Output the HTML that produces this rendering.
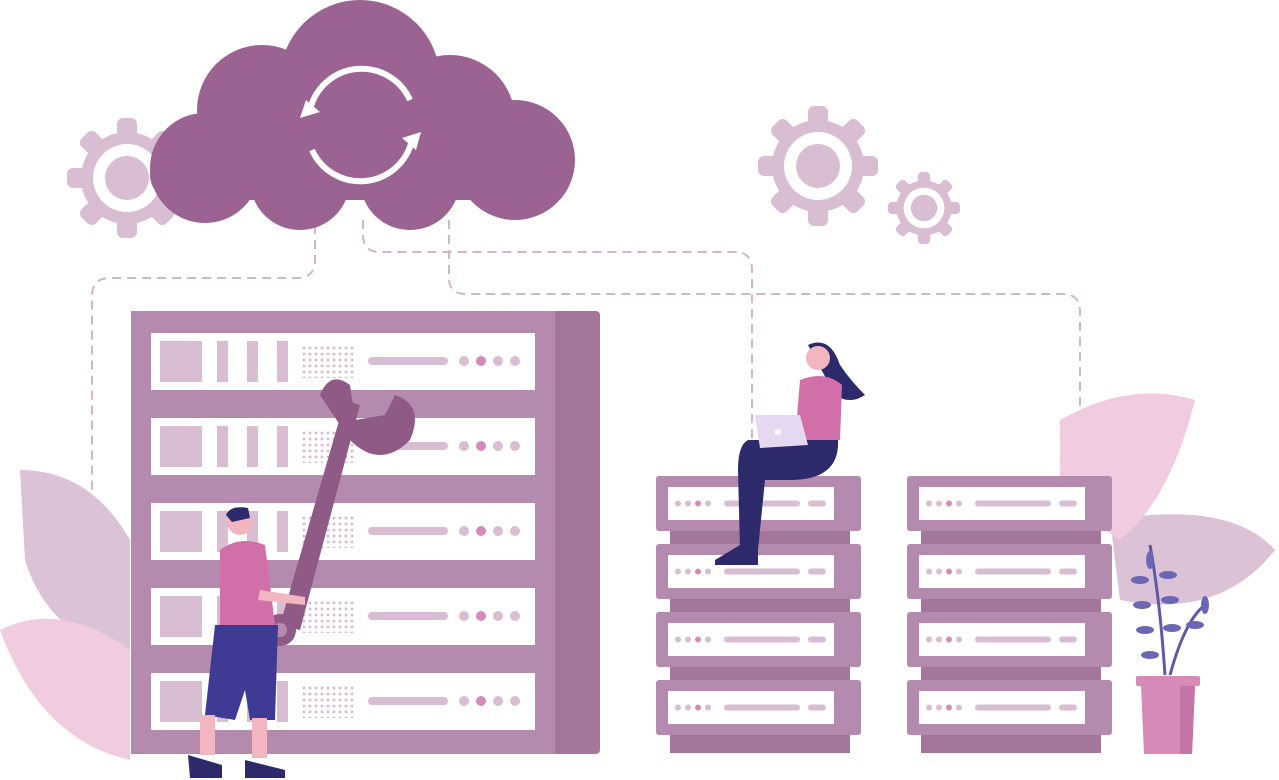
<!DOCTYPE html>
<html><head><meta charset="utf-8"><style>html,body{margin:0;padding:0;background:#fff}svg{display:block}</style></head><body>
<svg width="1279" height="780" viewBox="0 0 1279 780" xmlns="http://www.w3.org/2000/svg">
<defs>
<pattern id="dots" width="6" height="6" patternUnits="userSpaceOnUse"><circle cx="3" cy="3" r="1.5" fill="#d8bdd3"/></pattern>
<g id="gear"><circle r="46" fill="#d8bdd3"/><g fill="#d8bdd3">
<rect x="-10" y="-60" width="20" height="120" rx="6"/><rect x="-10" y="-60" width="20" height="120" rx="6" transform="rotate(45)"/><rect x="-10" y="-60" width="20" height="120" rx="6" transform="rotate(90)"/><rect x="-10" y="-60" width="20" height="120" rx="6" transform="rotate(135)"/></g>
<circle r="34" fill="#fff"/><circle r="22" fill="#d8bdd3"/></g>
<g id="unit"><rect x="0" y="0" width="205" height="55" rx="3" fill="#b48aae"/><rect x="12" y="11" width="166" height="33" fill="#fff"/>
<circle cx="22" cy="27.5" r="3" fill="#d8bdd3"/><circle cx="32" cy="27.5" r="3" fill="#d8bdd3"/><circle cx="42" cy="27.5" r="3" fill="#d68ab8"/><circle cx="52" cy="27.5" r="3" fill="#d8bdd3"/><rect x="68" y="24.5" width="76" height="6" rx="3" fill="#d8bdd3"/><rect x="152" y="24.5" width="18" height="6" rx="3" fill="#d8bdd3"/></g>
<g id="row"><rect width="384" height="57" fill="#fff"/><rect x="9" y="8" width="42" height="41" fill="#d8bdd3"/><rect x="66" y="8" width="11" height="41" fill="#d8bdd3"/><rect x="96" y="8" width="11" height="41" fill="#d8bdd3"/><rect x="126" y="8" width="11" height="41" fill="#d8bdd3"/>
<rect x="150" y="12" width="55" height="33" fill="url(#dots)"/><rect x="217" y="24" width="80" height="8" rx="4" fill="#d8bdd3"/><circle cx="313" cy="28" r="5" fill="#d8bdd3"/><circle cx="330" cy="28" r="5" fill="#d68ab8"/><circle cx="347" cy="28" r="5" fill="#d8bdd3"/><circle cx="364" cy="28" r="5" fill="#d8bdd3"/></g>
</defs>
<use href="#gear" x="127" y="178"/>
<use href="#gear" x="818" y="166"/>
<use href="#gear" transform="translate(924,208) scale(0.6)"/>
<g fill="none" stroke="#d4b3cd" stroke-width="2" stroke-dasharray="9 6">
<path d="M315 225 V260 Q315 278 297 278 H110 Q92 278 92 296 V500"/>
<path d="M363 220 V235 Q363 252 380 252 H735 Q752 252 752 270 V476"/>
<path d="M449 220 V278 Q449 294 466 294 H1063 Q1080 294 1080 312 V420"/>
</g>
<g fill="#dcc2d7"><path d="M20 470 Q90 470 130 540 L130 650 Q50 640 25 560 Z"/><path d="M1110 520 Q1230 500 1275 550 Q1220 620 1120 600 Z"/></g>
<g fill="#f1cbe0"><path d="M0 630 Q60 600 130 650 L130 760 Q40 740 0 630 Z"/><path d="M1060 420 Q1130 380 1195 400 Q1170 500 1120 540 L1060 500 Z"/></g>
<g fill="#9b6391"><circle cx="205" cy="168" r="55"/><circle cx="262" cy="110" r="65"/><circle cx="360" cy="80" r="80"/><circle cx="450" cy="120" r="65"/><circle cx="515" cy="160" r="60"/><circle cx="300" cy="180" r="50"/><circle cx="410" cy="180" r="50"/><rect x="150" y="150" width="420" height="50" rx="25"/></g>
<g fill="none" stroke="#fff" stroke-width="6"><path d="M310 110 A53 53 0 0 1 410 100"/><path d="M412 140 A53 53 0 0 1 312 150"/></g>
<path d="M300 118 L320 112 L306 100Z M421 132 L402 138 L416 150Z" fill="#fff"/>
<rect x="131" y="311" width="469" height="443" rx="4" fill="#a4769c"/>
<rect x="131" y="311" width="424" height="443" fill="#b48aae"/>
<use href="#row" x="151" y="333"/><use href="#row" x="151" y="418"/><use href="#row" x="151" y="503"/><use href="#row" x="151" y="588"/><use href="#row" x="151" y="673"/>
<g><rect x="670" y="480" width="180" height="273" fill="#a4769c"/>
<use href="#unit" x="656" y="476"/><use href="#unit" x="656" y="544"/><use href="#unit" x="656" y="612"/><use href="#unit" x="656" y="680"/></g>
<g><rect x="921" y="480" width="180" height="273" fill="#a4769c"/>
<use href="#unit" x="907" y="476"/><use href="#unit" x="907" y="544"/><use href="#unit" x="907" y="612"/><use href="#unit" x="907" y="680"/></g>
<path d="M345 400 L360 405 L300 630 L280 625 Z" fill="#8f5a86"/>
<path d="M320 395 Q330 370 350 385 L355 420 L385 415 L395 395 Q425 405 410 440 Q380 470 350 440 Z" fill="#8f5a86"/>
<circle cx="280" cy="630" r="16" fill="#8f5a86"/><circle cx="280" cy="630" r="7" fill="#b48aae"/>
<circle cx="240" cy="522" r="13" fill="#f2b6c0"/><path d="M226 515 Q230 505 248 508 L250 518 L232 522Z" fill="#2c2a6b"/>
<path d="M220 550 Q240 535 265 545 L275 625 L220 625Z" fill="#d170a8"/>
<path d="M215 625 L278 625 L275 720 L250 720 L245 690 L235 720 L205 715Z" fill="#3f3b94"/>
<rect x="200" y="715" width="15" height="40" fill="#f2b6c0"/><rect x="252" y="718" width="15" height="40" fill="#f2b6c0"/>
<path d="M188 755 L222 765 L222 778 L190 778Z M245 760 L285 770 L285 778 L245 778Z" fill="#2c2a6b"/>
<path d="M260 590 L305 597 L305 605 L258 600Z" fill="#f2b6c0"/>
<path d="M808 345 Q830 335 840 365 Q850 380 865 395 Q850 405 835 395 Z" fill="#2c2a6b"/>
<circle cx="818" cy="358" r="12" fill="#f2b6c0"/>
<path d="M800 380 Q825 370 842 385 L840 440 L795 440Z" fill="#d170a8"/>
<path d="M748 440 L838 440 Q840 480 790 480 L765 480 L758 550 L740 550 L738 470 Q738 445 748 440Z" fill="#2c2a6b"/>
<path d="M715 560 L740 545 L758 545 L758 565 L715 565Z" fill="#2c2a6b"/>
<path d="M755 415 L800 415 L808 445 L760 448Z" fill="#e6d8f0"/><circle cx="778" cy="432" r="3" fill="#fff"/>
<path d="M1165 675 Q1160 600 1150 545 M1170 675 Q1185 620 1205 605" stroke="#5e5aa8" stroke-width="3" fill="none"/>
<g fill="#6c67b5"><ellipse cx="1150" cy="560" rx="4" ry="9"/><ellipse cx="1140" cy="580" rx="9" ry="4"/><ellipse cx="1168" cy="575" rx="9" ry="4"/><ellipse cx="1142" cy="605" rx="9" ry="4"/><ellipse cx="1170" cy="600" rx="9" ry="4"/><ellipse cx="1145" cy="630" rx="9" ry="4"/><ellipse cx="1172" cy="628" rx="9" ry="4"/><ellipse cx="1150" cy="655" rx="9" ry="4"/><ellipse cx="1195" cy="625" rx="9" ry="4"/><ellipse cx="1205" cy="605" rx="4" ry="9"/></g>
<rect x="1136" y="676" width="64" height="10" rx="2" fill="#d68ab8"/>
<path d="M1141 686 H1195 L1192 754 H1144Z" fill="#d68ab8"/><path d="M1180 686 H1195 L1192 754 H1180Z" fill="#c474a6"/>
</svg>
</body></html>
